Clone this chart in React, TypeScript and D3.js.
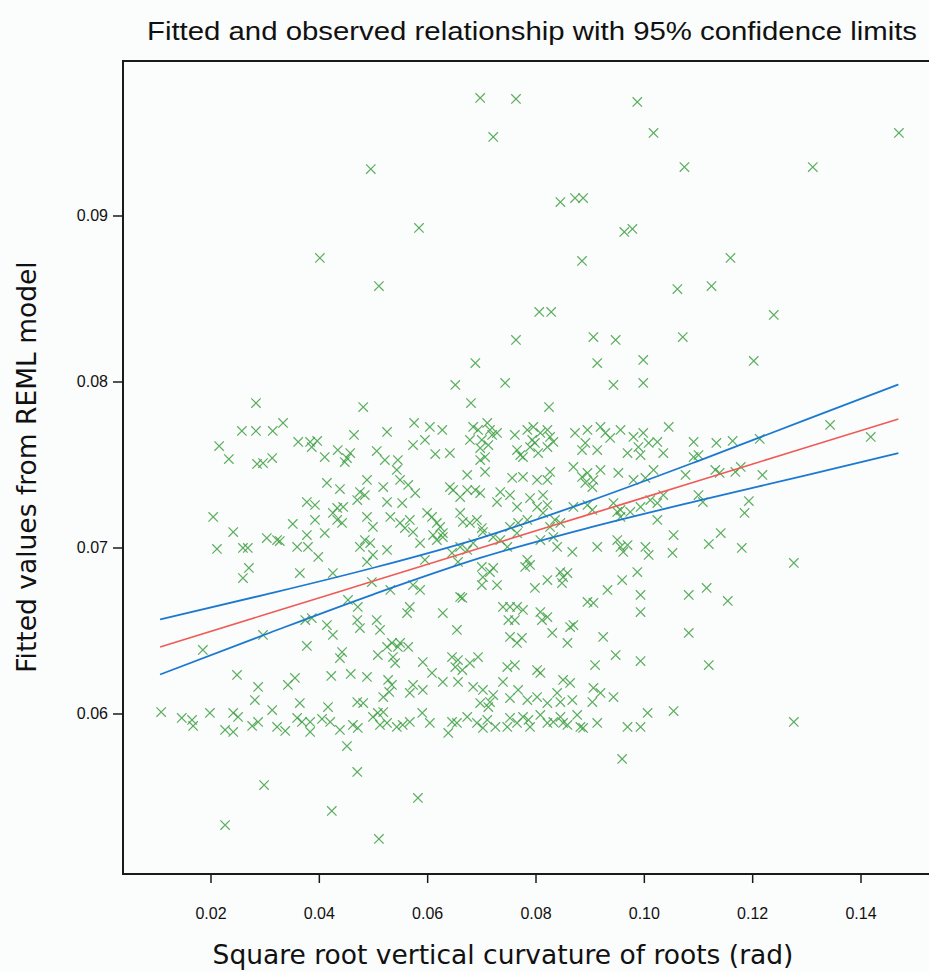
import React from "react";
import * as d3 from "d3";

// Observed root curvature (square root, rad) and REML fitted values
const curvature = [
  0.0697,0.0763,0.0987,0.0721,0.1017,0.1470,0.0495,0.1074,0.1311,0.0845,
  0.0872,0.0887,0.0584,0.0963,0.0978,0.0401,0.1159,0.0885,0.0510,0.1061,
  0.1124,0.0806,0.0828,0.1239,0.0763,0.0906,0.0947,0.1071,0.0688,0.0913,
  0.0998,0.1202,0.0651,0.0743,0.0943,0.0998,0.0680,0.0824,0.0283,0.0481,
  0.0257,0.0283,0.0314,0.0333,0.0215,0.0233,0.0361,0.0383,0.0396,0.0386,
  0.0285,0.0296,0.0313,0.0464,0.0525,0.0410,0.0434,0.0451,0.0457,0.0447,
  0.0506,0.0521,0.0545,0.0414,0.0438,0.0488,0.0518,0.0543,0.0475,0.0484,
  0.0470,0.0377,0.0392,0.0525,0.0553,0.0433,0.0444,0.0425,0.0204,0.0241,
  0.0351,0.0377,0.0392,0.0410,0.0303,0.0322,0.0327,0.0488,0.0499,0.0531,
  0.0433,0.0442,0.0211,0.0259,0.0268,0.0359,0.0379,0.0398,0.0484,0.0494,
  0.0475,0.0525,0.0499,0.0488,0.0270,0.0259,0.0364,0.0425,0.0497,0.0531,
  0.0453,0.0471,0.0470,0.0475,0.0506,0.0512,0.0374,0.0386,0.0414,0.0425,
  0.0296,0.0377,0.0442,0.0438,0.0508,0.0525,0.0534,0.0545,0.0536,0.0185,
  0.0575,0.0604,0.0627,0.0684,0.0693,0.0710,0.0715,0.0678,0.0700,0.0719,
  0.0728,0.0761,0.0784,0.0795,0.0808,0.0821,0.0826,0.0793,0.0798,0.0821,
  0.0832,0.0872,0.0895,0.0919,0.0928,0.0937,0.0956,0.0980,0.0998,0.1008,
  0.1024,0.1045,0.0573,0.0595,0.0614,0.0641,0.0697,0.0706,0.0697,0.0712,
  0.0765,0.0776,0.0789,0.0804,0.0771,0.0885,0.0913,0.0891,0.0969,0.0989,
  0.0993,0.1035,0.0673,0.0706,0.0756,0.0776,0.0802,0.0821,0.0826,0.0869,
  0.0885,0.0895,0.0906,0.0919,0.0891,0.0904,0.0952,0.0980,0.1002,0.1017,
  0.0549,0.0564,0.0577,0.0641,0.0647,0.0660,0.0673,0.0688,0.0697,0.0734,
  0.0752,0.0728,0.0765,0.0789,0.0802,0.0813,0.0821,0.0869,0.0895,0.0904,
  0.0943,0.0956,0.0974,0.0993,0.1011,0.1024,0.1035,0.0549,0.0558,0.0567,
  0.0573,0.0599,0.0608,0.0617,0.0623,0.0628,0.0660,0.0665,0.0678,0.0691,
  0.0700,0.0702,0.0752,0.0767,0.0784,0.0765,0.0813,0.0835,0.0845,0.0826,
  0.0950,0.0956,0.1024,0.0610,0.0617,0.0628,0.0586,0.0660,0.0673,0.0684,
  0.0721,0.0734,0.0747,0.0808,0.0839,0.0832,0.0867,0.0913,0.0950,0.0956,
  0.0969,0.0961,0.1002,0.1008,0.1052,0.1054,0.0595,0.0645,0.0656,0.0700,
  0.0721,0.0702,0.0715,0.0784,0.0789,0.0780,0.0845,0.0850,0.0848,0.0858,
  0.0798,0.0821,0.0573,0.0586,0.0700,0.0728,0.0932,0.0959,0.0987,0.0660,
  0.0664,0.0567,0.0562,0.0628,0.0739,0.0752,0.0765,0.0776,0.0749,0.0761,
  0.0808,0.0821,0.0811,0.0869,0.0863,0.0895,0.0906,0.0993,0.0993,0.0654,
  0.0752,0.0774,0.0765,0.0830,0.0858,0.0924,0.0947,0.0993,0.0549,0.0564,
  0.0645,0.0656,0.0678,0.0693,0.0664,0.0651,0.0591,0.0608,0.0628,0.0747,
  0.0761,0.0802,0.0808,0.0909,0.0573,0.0591,0.0567,0.0656,0.0684,0.0702,
  0.0721,0.0715,0.0697,0.0739,0.0767,0.0752,0.0784,0.0802,0.0821,0.0839,
  0.0850,0.0863,0.0845,0.0867,0.0906,0.0919,0.0904,0.0943,0.1091,0.1133,
  0.1163,0.1213,0.1343,0.1418,0.1091,0.1100,0.1076,0.1131,0.1139,0.1168,
  0.1178,0.1218,0.1100,0.1108,0.1193,0.1185,0.1141,0.1119,0.1180,0.1276,
  0.1082,0.1115,0.1154,0.1082,0.1119,0.1276,0.0248,0.0287,0.0281,0.0342,
  0.0355,0.0422,0.0458,0.0488,0.0527,0.0540,0.0534,0.0518,0.0529,0.0108,
  0.0146,0.0165,0.0167,0.0198,0.0226,0.0241,0.0241,0.0250,0.0276,0.0287,
  0.0313,0.0322,0.0337,0.0364,0.0359,0.0368,0.0383,0.0383,0.0405,0.0416,
  0.0420,0.0438,0.0462,0.0471,0.0470,0.0481,0.0499,0.0508,0.0518,0.0512,
  0.0525,0.0543,0.0554,0.0451,0.0470,0.0298,0.0423,0.0226,0.0510,0.0567,
  0.0590,0.0604,0.0638,0.0645,0.0654,0.0673,0.0691,0.0702,0.0710,0.0712,
  0.0725,0.0747,0.0752,0.0765,0.0776,0.0786,0.0789,0.0808,0.0821,0.0832,
  0.0845,0.0850,0.0858,0.0876,0.0882,0.0887,0.0913,0.0969,0.0993,0.1006,
  0.1054,0.0959,0.0582,
];

const fitted = [
  0.09711,0.09705,0.09687,0.09476,0.09500,0.09500,0.09283,0.09295,0.09295,0.09084,
  0.09108,0.09108,0.08928,0.08904,0.08922,0.08747,0.08747,0.08729,0.08578,0.08560,
  0.08578,0.08422,0.08422,0.08404,0.08253,0.08271,0.08253,0.08271,0.08114,0.08114,
  0.08133,0.08127,0.07982,0.07994,0.07982,0.07994,0.07873,0.07849,0.07873,0.07849,
  0.07705,0.07705,0.07705,0.07753,0.07614,0.07536,0.07639,0.07639,0.07645,0.07608,
  0.07506,0.07512,0.07542,0.07681,0.07699,0.07548,0.07590,0.07542,0.07572,0.07518,
  0.07584,0.07530,0.07530,0.07392,0.07355,0.07410,0.07367,0.07470,0.07337,0.07319,
  0.07289,0.07277,0.07259,0.07277,0.07271,0.07241,0.07247,0.07211,0.07187,0.07096,
  0.07145,0.07078,0.07169,0.07090,0.07060,0.07048,0.07042,0.07187,0.07127,0.07187,
  0.07169,0.07151,0.06994,0.07000,0.07000,0.07006,0.07006,0.06946,0.07048,0.07030,
  0.07006,0.06988,0.06958,0.06916,0.06880,0.06819,0.06849,0.06849,0.06795,0.06747,
  0.06687,0.06645,0.06566,0.06518,0.06566,0.06506,0.06566,0.06578,0.06536,0.06476,
  0.06476,0.06410,0.06373,0.06337,0.06355,0.06404,0.06428,0.06404,0.06343,0.06386,
  0.07753,0.07729,0.07711,0.07729,0.07711,0.07753,0.07711,0.07651,0.07651,0.07681,
  0.07693,0.07681,0.07711,0.07729,0.07693,0.07711,0.07669,0.07651,0.07633,0.07608,
  0.07639,0.07693,0.07711,0.07729,0.07693,0.07663,0.07711,0.07669,0.07693,0.07633,
  0.07639,0.07729,0.07620,0.07651,0.07566,0.07572,0.07602,0.07548,0.07530,0.07620,
  0.07590,0.07548,0.07608,0.07572,0.07560,0.07590,0.07590,0.07633,0.07572,0.07608,
  0.07560,0.07572,0.07440,0.07458,0.07422,0.07428,0.07410,0.07410,0.07458,0.07488,
  0.07428,0.07452,0.07410,0.07470,0.07392,0.07367,0.07452,0.07410,0.07422,0.07470,
  0.07410,0.07380,0.07331,0.07367,0.07349,0.07307,0.07349,0.07349,0.07331,0.07337,
  0.07319,0.07277,0.07247,0.07301,0.07247,0.07319,0.07259,0.07247,0.07259,0.07229,
  0.07271,0.07229,0.07217,0.07247,0.07289,0.07271,0.07319,0.07151,0.07120,0.07169,
  0.07096,0.07211,0.07187,0.07151,0.07127,0.07090,0.07211,0.07157,0.07151,0.07169,
  0.07120,0.07096,0.07127,0.07151,0.07169,0.07090,0.07211,0.07169,0.07151,0.07127,
  0.07217,0.07187,0.07169,0.07078,0.07048,0.07066,0.07030,0.07006,0.06988,0.07030,
  0.07066,0.07048,0.07006,0.07048,0.07006,0.07066,0.06976,0.07006,0.07048,0.07006,
  0.07018,0.06976,0.07006,0.06958,0.06970,0.07078,0.06928,0.06970,0.06916,0.06886,
  0.06880,0.06825,0.06855,0.06928,0.06898,0.06886,0.06855,0.06825,0.06789,0.06849,
  0.06759,0.06807,0.06777,0.06747,0.06777,0.06777,0.06747,0.06807,0.06855,0.06705,
  0.06699,0.06645,0.06608,0.06608,0.06645,0.06645,0.06645,0.06627,0.06566,0.06566,
  0.06614,0.06584,0.06566,0.06536,0.06524,0.06675,0.06669,0.06717,0.06614,0.06506,
  0.06464,0.06458,0.06428,0.06488,0.06428,0.06464,0.06355,0.06319,0.06428,0.06404,
  0.06343,0.06325,0.06307,0.06343,0.06265,0.06283,0.06313,0.06247,0.06193,0.06283,
  0.06295,0.06265,0.06247,0.06295,0.06175,0.06145,0.06127,0.06193,0.06163,0.06145,
  0.06114,0.06072,0.06066,0.06193,0.06145,0.06096,0.06084,0.06102,0.06066,0.06127,
  0.06205,0.06187,0.06072,0.06084,0.06157,0.06127,0.06072,0.06102,0.07639,0.07633,
  0.07645,0.07657,0.07741,0.07669,0.07548,0.07560,0.07440,0.07470,0.07452,0.07458,
  0.07488,0.07440,0.07319,0.07277,0.07283,0.07211,0.07090,0.07024,0.07000,0.06910,
  0.06717,0.06759,0.06681,0.06488,0.06295,0.05952,0.06235,0.06163,0.06084,0.06175,
  0.06217,0.06229,0.06241,0.06223,0.06205,0.06307,0.06175,0.06102,0.06133,0.06012,
  0.05976,0.05964,0.05928,0.06006,0.05904,0.05892,0.06006,0.05982,0.05928,0.05952,
  0.06024,0.05922,0.05898,0.06066,0.05976,0.05952,0.05952,0.05892,0.05970,0.06042,
  0.05952,0.05904,0.05934,0.05916,0.06072,0.06066,0.05982,0.06006,0.06012,0.05934,
  0.05946,0.05922,0.05934,0.05807,0.05651,0.05572,0.05416,0.05331,0.05247,0.05952,
  0.06006,0.05946,0.05886,0.05952,0.05946,0.05982,0.05946,0.05916,0.05964,0.06042,
  0.05922,0.05922,0.05976,0.05946,0.05982,0.05964,0.05922,0.05994,0.05946,0.05952,
  0.05982,0.05946,0.05934,0.05994,0.05922,0.05916,0.05946,0.05922,0.05922,0.06006,
  0.06018,0.05729,0.05494,
];

// Fitted regression line and its 95% confidence limits
const lineX = [0.0106, 0.03, 0.05, 0.07, 0.09, 0.11, 0.13, 0.1469];
const lineFit = [0.06404, 0.06599, 0.06801, 0.07003, 0.07204, 0.07405, 0.07607, 0.07777];
const lineUpper = [0.0657, 0.06719, 0.06881, 0.07063, 0.07284, 0.07525, 0.07775, 0.07985];
const lineLower = [0.06238, 0.06479, 0.06721, 0.06943, 0.07124, 0.07285, 0.07439, 0.07572];

const xTicks = [0.02, 0.04, 0.06, 0.08, 0.1, 0.12, 0.14];
const yTicks = [0.06, 0.07, 0.08, 0.09];

const W = 929;
const H = 972;
const LEFT = 123;
const RIGHT = 950;
const TOP = 61;
const BOTTOM = 874;

export default function App() {
  const x = d3.scaleLinear().domain([0.003754, 0.15643]).range([LEFT, RIGHT]);
  const y = d3.scaleLinear().domain([0.050361, 0.099337]).range([BOTTOM, TOP]);

  const n = Math.min(curvature.length, fitted.length);
  const points = d3.range(n).map((i) => [curvature[i], fitted[i]] as [number, number]);

  const line = d3
    .line<[number, number]>()
    .x((d) => x(d[0]))
    .y((d) => y(d[1]))
    .curve(d3.curveMonotoneX);
  const zip = (ys: number[]) => lineX.map((v, i) => [v, ys[i]] as [number, number]);

  const arm = 4.7;
  const cross = `M${-arm},${-arm}L${arm},${arm}M${-arm},${arm}L${arm},${-arm}`;
  const tickFont = "'Liberation Sans', Arial, sans-serif";
  const labelFont = "'DejaVu Sans', Verdana, sans-serif";

  return (
    <svg
      width={W}
      height={H}
      viewBox={`0 0 ${W} ${H}`}
      style={{ position: "absolute", left: 0, top: 0, display: "block" }}
    >
      <rect x={0} y={0} width={W} height={H} fill="#fbfcfc" />

      <text
        x={532}
        y={40}
        textAnchor="middle"
        fontFamily={tickFont}
        fontSize={26}
        textLength={770}
        lengthAdjust="spacingAndGlyphs"
        fill="#111"
      >
        Fitted and observed relationship with 95% confidence limits
      </text>

      {/* scatter of observations */}
      <g stroke="#3fa043" strokeWidth={1.2} strokeOpacity={0.85} fill="none">
        {points.map((p, i) => (
          <path key={i} d={cross} transform={`translate(${x(p[0])},${y(p[1])})`} />
        ))}
      </g>

      {/* fitted line and confidence limits */}
      <path d={line(zip(lineUpper)) || ""} fill="none" stroke="#1c79cf" strokeWidth={1.8} />
      <path d={line(zip(lineLower)) || ""} fill="none" stroke="#1c79cf" strokeWidth={1.8} />
      <path d={line(zip(lineFit)) || ""} fill="none" stroke="#ef5b57" strokeWidth={1.6} />

      {/* frame */}
      <path
        d={`M${RIGHT},${TOP}H${LEFT}V${BOTTOM}H${RIGHT}`}
        fill="none"
        stroke="#1a1a1a"
        strokeWidth={2}
      />

      {/* y axis */}
      {yTicks.map((t) => (
        <g key={t}>
          <line x1={LEFT - 10} x2={LEFT} y1={y(t)} y2={y(t)} stroke="#1a1a1a" strokeWidth={1.5} />
          <text
            x={LEFT - 15}
            y={y(t) + 5.5}
            textAnchor="end"
            fontFamily={tickFont}
            fontSize={16}
            fill="#111"
          >
            {d3.format(".2f")(t)}
          </text>
        </g>
      ))}

      {/* x axis */}
      {xTicks.map((t) => (
        <g key={t}>
          <line x1={x(t)} x2={x(t)} y1={BOTTOM} y2={BOTTOM + 9} stroke="#1a1a1a" strokeWidth={1.5} />
          <text
            x={x(t)}
            y={BOTTOM + 45}
            textAnchor="middle"
            fontFamily={tickFont}
            fontSize={16}
            fill="#111"
          >
            {d3.format(".2f")(t)}
          </text>
        </g>
      ))}

      <text
        x={503}
        y={964}
        textAnchor="middle"
        fontFamily={labelFont}
        fontSize={26.5}
        fill="#111"
      >
        Square root vertical curvature of roots (rad)
      </text>

      <text
        transform={`translate(36,467) rotate(-90)`}
        textAnchor="middle"
        fontFamily={labelFont}
        fontSize={26.5}
        fill="#111"
      >
        Fitted values from REML model
      </text>
    </svg>
  );
}
